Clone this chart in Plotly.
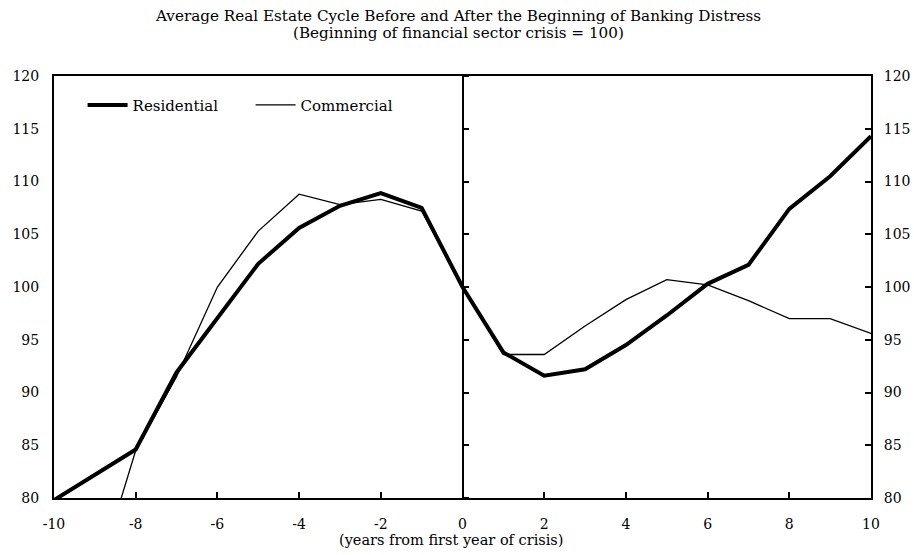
import plotly.graph_objects as go

years = list(range(-10, 11))
residential = [79.8, 82.2, 84.6, 91.9, 97.0, 102.2, 105.6, 107.7, 108.9, 107.5, 100.0,
               93.8, 91.6, 92.2, 94.5, 97.3, 100.3, 102.1, 107.4, 110.5, 114.3]
comm_years = list(range(-9, 11))
commercial = [71.8, 84.5, 91.5, 100.0, 105.3, 108.8, 107.8, 108.3, 107.2, 100.0,
              93.6, 93.6, 96.3, 98.8, 100.7, 100.2, 98.7, 97.0, 97.0, 95.6]
x_ticks = [-10, -8, -6, -4, -2, 0, 2, 4, 6, 8, 10]
x_tick_text = ["-10", "-8", "-6", "-4", "-2", "0", "2", "4", "6", "8", "10"]
y_ticks = [80, 85, 90, 95, 100, 105, 110, 115, 120]
title_lines = ["Average Real Estate Cycle Before and After the Beginning of Banking Distress",
               "(Beginning of financial sector crisis = 100)"]
x_title = "(years from first year of crisis)"

FONT = "DejaVu Serif, Liberation Serif, serif"
FS = 14.5
TICKFONT = dict(family=FONT, size=14, color="black")

fig = go.Figure()
fig.add_trace(go.Scatter(x=years, y=residential, mode="lines", name="Residential",
                         line=dict(color="black", width=4)))
fig.add_trace(go.Scatter(x=comm_years, y=commercial, mode="lines", name="Commercial",
                         line=dict(color="black", width=1.3)))
# invisible traces to bring the extra axes to life
fig.add_trace(go.Scatter(x=[0], y=[100], yaxis="y2", mode="lines", showlegend=False,
                         hoverinfo="skip", line=dict(width=0)))
fig.add_trace(go.Scatter(x=[0], y=[100], yaxis="y3", mode="lines", showlegend=False,
                         hoverinfo="skip", line=dict(width=0)))

fig.add_annotation(text=title_lines[0], xref="paper", yref="paper", x=0.495, y=1.142,
                   xanchor="center", yanchor="middle", showarrow=False,
                   font=dict(family=FONT, size=15.2, color="black"))
fig.add_annotation(text=title_lines[1], xref="paper", yref="paper", x=0.495, y=1.102,
                   xanchor="center", yanchor="middle", showarrow=False,
                   font=dict(family=FONT, size=15.2, color="black"))
fig.add_annotation(text=x_title, xref="paper", yref="paper", x=0.4865, y=-0.100,
                   xanchor="center", yanchor="middle", showarrow=False,
                   font=dict(family=FONT, size=FS, color="black"))

fig.update_layout(
    width=914, height=555,
    margin=dict(l=54, r=43, t=76, b=57, autoexpand=False),
    paper_bgcolor="white", plot_bgcolor="white",
    font=dict(family=FONT, size=FS, color="black"),
    showlegend=True,
    legend=dict(orientation="h", x=0.035, y=0.97, xanchor="left", yanchor="top",
                bgcolor="rgba(0,0,0,0)", font=dict(family=FONT, size=15),
                itemwidth=40, entrywidth=113),
    xaxis=dict(range=[-10, 10], tickvals=x_ticks, ticktext=x_tick_text,
               showgrid=False, zeroline=False, showline=True, linecolor="black",
               linewidth=2, mirror=True, ticks="inside", ticklen=6, tickwidth=1.5,
               tickcolor="black", ticklabelstandoff=12, automargin=False,
               tickfont=TICKFONT),
    yaxis=dict(range=[80, 120], tickvals=y_ticks, showgrid=False, zeroline=False,
               showline=True, linecolor="black", linewidth=2, ticks="",
               ticklabelstandoff=10, automargin=False, tickfont=TICKFONT),
    yaxis2=dict(range=[80, 120], tickvals=y_ticks, overlaying="y", side="right",
                showgrid=False, zeroline=False, showline=True, linecolor="black",
                linewidth=2, ticks="inside", ticklen=6, tickwidth=1.5,
                tickcolor="black", ticklabelstandoff=8, automargin=False,
                tickfont=TICKFONT),
    yaxis3=dict(range=[80, 120], tickvals=y_ticks, overlaying="y", anchor="free",
                position=0.5, side="right", showgrid=False, zeroline=False,
                showline=True, linecolor="black", linewidth=2, ticks="outside",
                ticklen=5, tickwidth=1.5, tickcolor="black", showticklabels=False,
                automargin=False),
)

fig.write_html("out.html", config={"displayModeBar": False},
               post_script="document.body.style.margin='0';document.body.style.overflow='hidden';")
